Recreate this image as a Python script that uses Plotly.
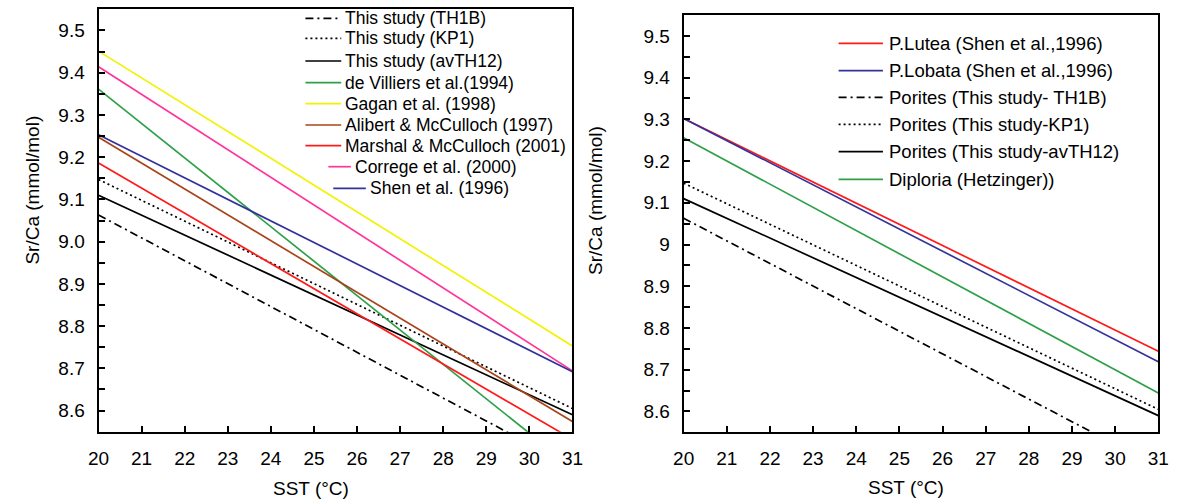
import plotly.graph_objects as go
from plotly.subplots import make_subplots

W, H = 1181, 501
FONT = "Arial, Liberation Sans, sans-serif"

# Sr/Ca–SST calibration lines, evaluated at the ends of the SST axis
sst = [20, 31]

# left panel: published calibrations compared with this study
left_names = [
    "This study (TH1B)", "This study (KP1)", "This study (avTH12)",
    "de Villiers et al.(1994)", "Gagan et al. (1998)",
    "Alibert & McCulloch (1997)", "Marshal & McCulloch (2001)",
    "Correge et al. (2000)", "Shen et al. (1996)",
]
th1b = [9.063, 8.467]
kp1 = [9.147, 8.605]
avth12 = [9.110, 8.590]
de_villiers = [9.361, 8.465]
gagan = [9.451, 8.753]
alibert = [9.247, 8.574]
marshal = [9.186, 8.532]
correge = [9.414, 8.694]
shen = [9.253, 8.692]
left_values = [th1b, kp1, avth12, de_villiers, gagan, alibert, marshal, correge, shen]
left_colors = ["black", "black", "black", "#2ea04a", "#f2f200", "#a8441a",
               "#ff1a1a", "#ff3399", "#33339c"]
left_dash = ["8px,4px,2px,4px", "2px,3px", "solid", "solid", "solid",
             "solid", "solid", "solid", "solid"]

# right panel: genus-level calibrations
right_names = [
    "P.Lutea (Shen et al.,1996)", "P.Lobata (Shen et al.,1996)",
    "Porites (This study- TH1B)", "Porites (This study-KP1)",
    "Porites (This study-avTH12)", "Diploria (Hetzinger))",
]
p_lutea = [9.302, 8.744]
p_lobata = [9.302, 8.719]
diploria = [9.256, 8.644]
right_values = [p_lutea, p_lobata, th1b, kp1, avth12, diploria]
right_colors = ["#ff1a1a", "#33339c", "black", "black", "black", "#2ea04a"]
right_dash = ["solid", "solid", "8px,4px,2px,4px", "2px,3px", "solid", "solid"]

y_range = [8.55, 9.55]
x_range = [20, 31]
LW = 1.7


def px(x):
    return x / W


def py(y):
    return 1 - y / H


fig = make_subplots(rows=1, cols=2)

for name, vals, col, dash in zip(left_names, left_values, left_colors, left_dash):
    fig.add_trace(go.Scatter(x=sst, y=vals, mode="lines", name=name,
                             line=dict(color=col, width=LW, dash=dash),
                             showlegend=False), row=1, col=1)
for name, vals, col, dash in zip(right_names, right_values, right_colors, right_dash):
    fig.add_trace(go.Scatter(x=sst, y=vals, mode="lines", name=name,
                             line=dict(color=col, width=LW, dash=dash),
                             showlegend=False), row=1, col=2)

axis_common = dict(showline=True, linewidth=2, linecolor="black", mirror=True,
                   ticks="inside", ticklen=6, tickwidth=1.5, tickcolor="black",
                   showgrid=False, zeroline=False,
                   tickfont=dict(family=FONT, size=19, color="black"))

fig.update_xaxes(range=x_range, dtick=1, tick0=20, ticklabelstandoff=8, **axis_common)
fig.update_yaxes(range=y_range, dtick=0.1, tick0=8.6, ticklabelstandoff=8,
                 minor=dict(dtick=0.05, ticks="inside", ticklen=6, tickwidth=1.5,
                            tickcolor="black", showgrid=False),
                 **axis_common)

fig.update_layout(
    xaxis=dict(domain=[px(89.2), px(572.1)]),
    yaxis=dict(domain=[py(431.7), py(9.3)], tickformat=".1f"),
    xaxis2=dict(domain=[px(685.4), px(1169.1)]),
    yaxis2=dict(domain=[py(432.3), py(15)]),
)

annotations = []
shapes = []

# axis titles
for xc, yc in [(306, 488), (912, 487)]:
    annotations.append(dict(x=px(xc), y=py(yc), xref="paper", yref="paper",
                            xanchor="center", yanchor="middle",
                            text="SST (°C)", showarrow=False,
                            font=dict(family=FONT, size=19, color="black")))
for xc, yc in [(21, 190), (595, 200)]:
    annotations.append(dict(x=px(xc), y=py(yc), xref="paper", yref="paper",
                            xanchor="center", yanchor="middle",
                            text="Sr/Ca (mmol/mol)", showarrow=False, textangle=-90,
                            font=dict(family=FONT, size=19, color="black")))

# key for the left panel
left_key_y = [18.3, 38.3, 61, 82.7, 103.7, 125, 145.7, 166.7, 188.3]
left_key_x = [(300, 336.5, 338)] * 7 + [(323.4, 346.3, 348.3), (328.4, 361.6, 363.6)]
for name, col, dash, yy, (x0, x1, xt) in zip(left_names, left_colors, left_dash,
                                             left_key_y, left_key_x):
    shapes.append(dict(type="line", xref="paper", yref="paper",
                       x0=px(x0), x1=px(x1), y0=py(yy), y1=py(yy),
                       line=dict(color=col, width=LW, dash=dash)))
    annotations.append(dict(x=px(xt), y=py(yy), xref="paper", yref="paper",
                            text=name, showarrow=False, xanchor="left", yanchor="middle",
                            font=dict(family=FONT, size=17.5, color="black")))

# key for the right panel
right_key_y = [43.3, 70.7, 97.3, 124.3, 151.7, 179.3]
for name, col, dash, yy in zip(right_names, right_colors, right_dash, right_key_y):
    shapes.append(dict(type="line", xref="paper", yref="paper",
                       x0=px(843.3), x1=px(888.5), y0=py(yy), y1=py(yy),
                       line=dict(color=col, width=LW, dash=dash)))
    annotations.append(dict(x=px(892.4), y=py(yy), xref="paper", yref="paper",
                            text=name, showarrow=False, xanchor="left", yanchor="middle",
                            font=dict(family=FONT, size=18.5, color="black")))

fig.update_layout(
    width=W, height=H,
    margin=dict(l=0, r=0, t=0, b=0),
    paper_bgcolor="white", plot_bgcolor="white",
    showlegend=False,
    annotations=annotations, shapes=shapes,
    font=dict(family=FONT, color="black"),
)

fig.write_html("out.html")
